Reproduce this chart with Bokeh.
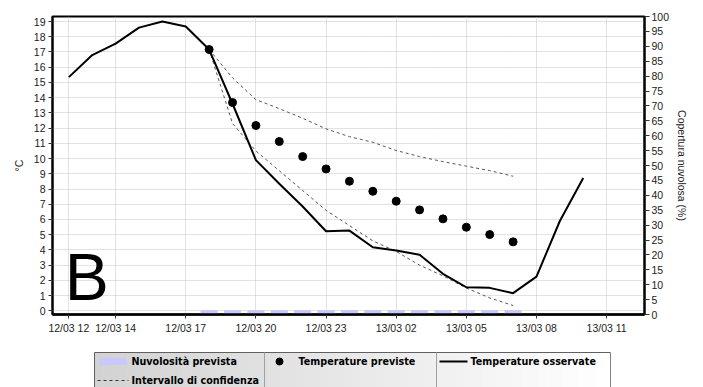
from bokeh.plotting import figure
from bokeh.models import Range1d, LinearAxis, FixedTicker, Label
from bokeh.layouts import column
from bokeh.embed import file_html
from bokeh.resources import INLINE
from bokeh.core.properties import value

# ---------------- data ----------------
# hours counted from 12/03 00:00
obs_hours = [12, 13, 14, 15, 16, 17, 18, 19, 20, 21, 22, 23, 24, 25, 26, 27, 28, 29, 30, 31, 32, 33, 34]
obs_temp = [15.35, 16.8, 17.55, 18.6, 19.0, 18.67, 17.16, 13.6, 9.9, 8.35, 6.85, 5.23, 5.27, 4.18,
            3.96, 3.68, 2.43, 1.55, 1.51, 1.16, 2.25, 5.9, 8.73]

fc_hours = [18, 19, 20, 21, 22, 23, 24, 25, 26, 27, 28, 29, 30, 31]
fc_temp = [17.16, 13.68, 12.17, 11.12, 10.13, 9.32, 8.51, 7.85, 7.2, 6.63, 6.04, 5.49, 5.01, 4.53]
ci_upper = [17.16, 15.3, 13.87, 13.28, 12.65, 11.95, 11.44, 11.07, 10.53, 10.13, 9.8, 9.5, 9.21, 8.84]
ci_lower = [17.16, 12.3, 10.5, 9.2, 7.9, 6.6, 5.6, 4.6, 3.9, 3.0, 2.3, 1.5, 0.85, 0.35]
cloud_pct = [1.5, 1.5, 1.5, 1.5, 1.5, 1.5, 1.5, 1.5, 1.5, 1.5, 1.5, 1.5, 1.5, 1.5]

x_tick_pos = [12, 14, 17, 20, 23, 26, 29, 32, 35]
x_tick_labels = ["12/03 12", "12/03 14", "12/03 17", "12/03 20", "12/03 23",
                 "13/03 02", "13/03 05", "13/03 08", "13/03 11"]
temp_ticks = list(range(0, 20))
cloud_ticks = list(range(0, 101, 5))

legend_labels = ["Nuvolosità prevista", "Temperature previste", "Temperature osservate",
                 "Intervallo di confidenza"]

FONT = "Liberation Sans"
TICK_SIZE = "10.5px"
TXT = "#222222"
CLOUD = "#c8c8fa"

# ---------------- main chart ----------------
p = figure(width=700, height=338, x_range=Range1d(11.30, 36.62), y_range=Range1d(-0.24, 19.33),
           output_backend="svg", toolbar_location=None,
           min_border_left=52, min_border_right=56, min_border_top=16, min_border_bottom=24)
p.background_fill_color = "white"
p.border_fill_color = "white"
p.outline_line_color = "black"
p.outline_line_width = 2

p.extra_y_ranges = {"cloud": Range1d(0, 100)}

left = p.yaxis[0]
left.ticker = FixedTicker(ticks=temp_ticks)
left.axis_label = "°C"
bottom = p.xaxis[0]
bottom.ticker = FixedTicker(ticks=x_tick_pos)
bottom.major_label_overrides = {k: v for k, v in zip(x_tick_pos, x_tick_labels)}

right = LinearAxis(y_range_name="cloud", axis_label="Copertura nuvolosa (%)",
                   ticker=FixedTicker(ticks=cloud_ticks))
p.add_layout(right, "right")

for ax in (left, bottom, right):
    ax.axis_line_color = "black"
    ax.axis_line_width = 2
    ax.major_tick_in = 0
    ax.major_tick_out = 4
    ax.minor_tick_out = 0
    ax.minor_tick_in = 0
    ax.major_tick_line_color = "#333333"
    ax.major_label_text_font = FONT
    ax.major_label_text_font_size = TICK_SIZE
    ax.major_label_text_color = TXT
    ax.axis_label_text_font = FONT
    ax.axis_label_text_font_size = TICK_SIZE
    ax.axis_label_text_font_style = "normal"
    ax.axis_label_text_color = TXT
    ax.major_label_standoff = 3
left.axis_label_standoff = 6
right.major_tick_out = 5
right.major_label_standoff = 2
right.axis_label_standoff = 4
bottom.axis_line_width = 2.5

p.xgrid.grid_line_color = "#c4c4c4"
p.xgrid.grid_line_dash = "1 1"
p.ygrid.grid_line_color = "#c4c4c4"
p.ygrid.grid_line_dash = "1 1"

p.vbar(x=fc_hours, top=cloud_pct, bottom=0, width=0.73, y_range_name="cloud",
       fill_color=CLOUD, line_color=None)
p.line(fc_hours, ci_upper, line_color="#555555", line_width=1, line_dash="3 3")
p.line(fc_hours, ci_lower, line_color="#555555", line_width=1, line_dash="3 3")
p.line(obs_hours, obs_temp, line_color="black", line_width=2)
p.scatter(fc_hours, fc_temp, size=8, fill_color="black", line_color="black")

p.add_layout(Label(x=11.82, y=2.19, text="B", text_font=FONT, text_font_size="66px",
                   text_color="black", text_align="left", text_baseline="alphabetic"))

# ---------------- legend (page coordinates; frame aligned with chart frame 52..644) ----------------
lf = figure(width=700, height=49, x_range=Range1d(52, 644), y_range=Range1d(387, 338),
            output_backend="svg", toolbar_location=None, min_border=0,
            min_border_left=52, min_border_right=56,
            x_axis_location=None, y_axis_location=None)
lf.grid.visible = False
lf.outline_line_color = None
lf.background_fill_color = "white"
lf.border_fill_color = "white"

x0, x1, ytop, ybot = 94, 610, 352, 387
n = 64
lefts, rights, cols = [], [], []
for i in range(n):
    a = x0 + (x1 - x0) * i / n
    b = x0 + (x1 - x0) * (i + 1) / n
    g = int(round(0xd2 + (0xff - 0xd2) * (i + 0.5) / n))
    lefts.append(a)
    rights.append(b + 0.5)
    cols.append("#%02x%02x%02x" % (g, g, g))
lf.quad(left=lefts, right=rights, top=[ytop] * n, bottom=[ybot] * n, fill_color=cols, line_color=None)
lf.segment(x0=[x0, x0, 264, 436, x1], y0=[ytop, ytop, ytop, ytop, ytop],
           x1=[x1, x0, 264, 436, x1], y1=[ytop, ybot, ybot, ybot, ybot],
           line_color=["#606060", "#606060", "#a0a0a0", "#a0a0a0", "#808080"], line_width=1)

r1, r2 = 361, 380
lf.quad(left=[99], right=[126], top=[r1 - 3.5], bottom=[r1 + 3.5], fill_color=CLOUD, line_color=None)
lf.scatter(x=[279], y=[r1], size=7, fill_color="black", line_color="black")
lf.segment(x0=[439], y0=[r1], x1=[467], y1=[r1], line_color="black", line_width=2)
lf.segment(x0=[97], y0=[r2], x1=[128], y1=[r2], line_color="#333333", line_width=1, line_dash="3 3")
lf.text(x=[131, 298, 470, 131], y=[r1, r1, r1, r2], text=legend_labels,
        text_font=value("DejaVu Sans"), text_font_style="bold", text_font_size="9.6px",
        text_color="black", text_baseline="middle", text_align="left")

layout = column(p, lf)
open("out.html", "w").write(file_html(layout, INLINE))
